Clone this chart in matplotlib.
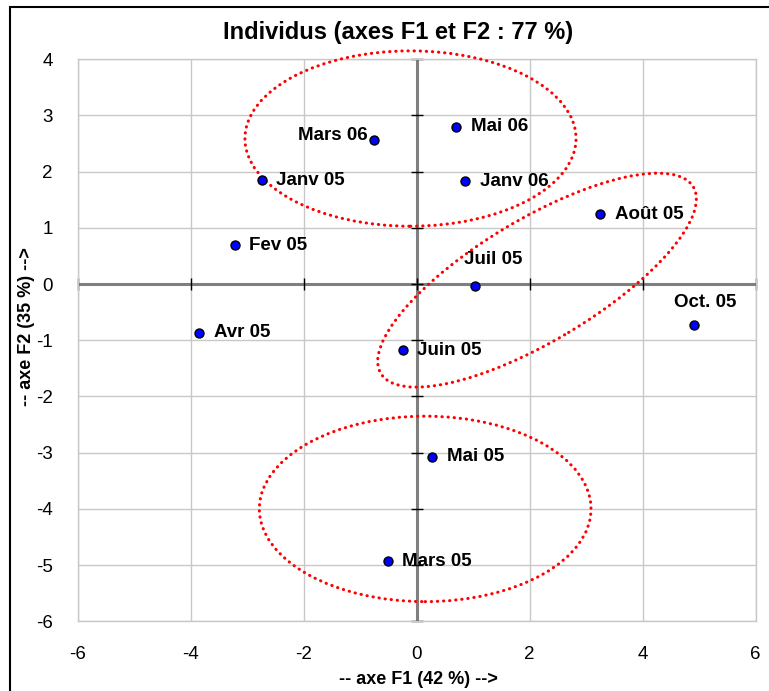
"""
Individus plot of the PCA (axes F1 and F2), Excel-style look.
"""

import matplotlib
matplotlib.use("Agg")
import matplotlib.pyplot as plt
from matplotlib.patches import Ellipse, Rectangle

# individuals (coordinates on F1 / F2)
labels = ["Mars 06", "Mai 06", "Janv 05", "Janv 06", "Août 05", "Fev 05",
          "Juil 05", "Oct. 05", "Avr 05", "Juin 05", "Mai 05", "Mars 05"]
f1 = [-0.75, 0.70, -2.74, 0.86, 3.25, -3.22, 1.04, 4.91, -3.85, -0.25, 0.27, -0.51]
f2 = [2.57, 2.80, 1.85, 1.83, 1.24, 0.69, -0.04, -0.73, -0.87, -1.18, -3.07, -4.93]

# label offsets in points (dx, dy) and alignment
label_dx = [-5, 10.5, 10.5, 10.5, 10.5, 10.5, 13, 8, 10.5, 10.5, 10.5, 10.5]
label_dy = [3, 0, 0, 0, 0, 0, 19, 16, 0, 0, 0, 0]
label_ha = ["right", "left", "left", "left", "left", "left",
            "center", "center", "left", "left", "left", "left"]

# groups circled by hand (center x, center y, width, height, angle)
groups_cx = [-0.11, 2.13, 0.15]
groups_cy = [2.59, 0.07, -4.00]
groups_w = [5.86, 6.45, 5.87]
groups_h = [3.12, 2.17, 3.30]
groups_angle = [0, 31, 0]

x_ticks = [-6, -4, -2, 0, 2, 4, 6]
y_ticks = [-6, -5, -4, -3, -2, -1, 0, 1, 2, 3, 4]

TITLE = "Individus (axes F1 et F2 : 77 %)"
XLABEL = "-- axe F1 (42 %) -->"
YLABEL = "-- axe F2 (35 %) -->"

plt.rcParams["font.family"] = ["Liberation Sans", "DejaVu Sans"]
plt.rcParams["axes.unicode_minus"] = False

W, H = 769, 691
fig = plt.figure(figsize=(W / 100, H / 100), dpi=100)
ax = fig.add_axes([77.7 / W, 1 - 621.3 / H, (755.7 - 77.7) / W, (621.3 - 59.3) / H])

ax.set_xlim(x_ticks[0], x_ticks[-1])
ax.set_ylim(y_ticks[0], y_ticks[-1])
ax.set_xticks(x_ticks)
ax.set_yticks(y_ticks)
ax.tick_params(length=0, labelsize=13.5, pad=18)
ax.grid(True, color="#c8c8c8", linewidth=1)
ax.set_axisbelow(True)
for sp in ax.spines.values():
    sp.set_color("#c8c8c8")
    sp.set_linewidth(1)

# zero axes with their small tick marks
ax.axhline(0, color="#7f7f7f", linewidth=2.2, zorder=1.5)
ax.axvline(0, color="#7f7f7f", linewidth=2.2, zorder=1.5)
ax.plot([0] * len(y_ticks), y_ticks, linestyle="none", marker="_",
        markersize=9, markeredgewidth=1, color="black", zorder=1.6, clip_on=False)
ax.plot(x_ticks, [0] * len(x_ticks), linestyle="none", marker="|",
        markersize=9, markeredgewidth=1, color="black", zorder=1.6, clip_on=False)

for cx, cy, w, h, a in zip(groups_cx, groups_cy, groups_w, groups_h, groups_angle):
    e = Ellipse((cx, cy), w, h, angle=a, fill=False, edgecolor="#ff0000",
                linewidth=2.2, linestyle=(0, (0.1, 1.9)), zorder=3, clip_on=False)
    e.set_capstyle("round")
    ax.add_patch(e)

ax.scatter(f1, f2, s=42, color="#0000ff", edgecolor="black", linewidth=1, zorder=4)

for x, y, lab, dx, dy, ha in zip(f1, f2, labels, label_dx, label_dy, label_ha):
    ax.annotate(lab, (x, y), xytext=(dx, dy), textcoords="offset points",
                ha=ha, va="center", fontsize=13.5, fontweight="bold", zorder=5)

fig.text(398 / W, 1 - 32.5 / H, TITLE, ha="center", va="center",
         fontsize=17, fontweight="bold")
fig.text(418 / W, 1 - 679 / H, XLABEL, ha="center", va="center",
         fontsize=13, fontweight="bold")
fig.text(27 / W, 1 - 327 / H, YLABEL, ha="center", va="center",
         rotation=90, fontsize=13, fontweight="bold")

# chart frame
fig.patches.append(Rectangle((9.5 / W, -0.05), 1.2, 1.05 - 7 / H,
                             transform=fig.transFigure, fill=False,
                             edgecolor="black", linewidth=1.5))

fig.savefig("out.png", dpi=100)
